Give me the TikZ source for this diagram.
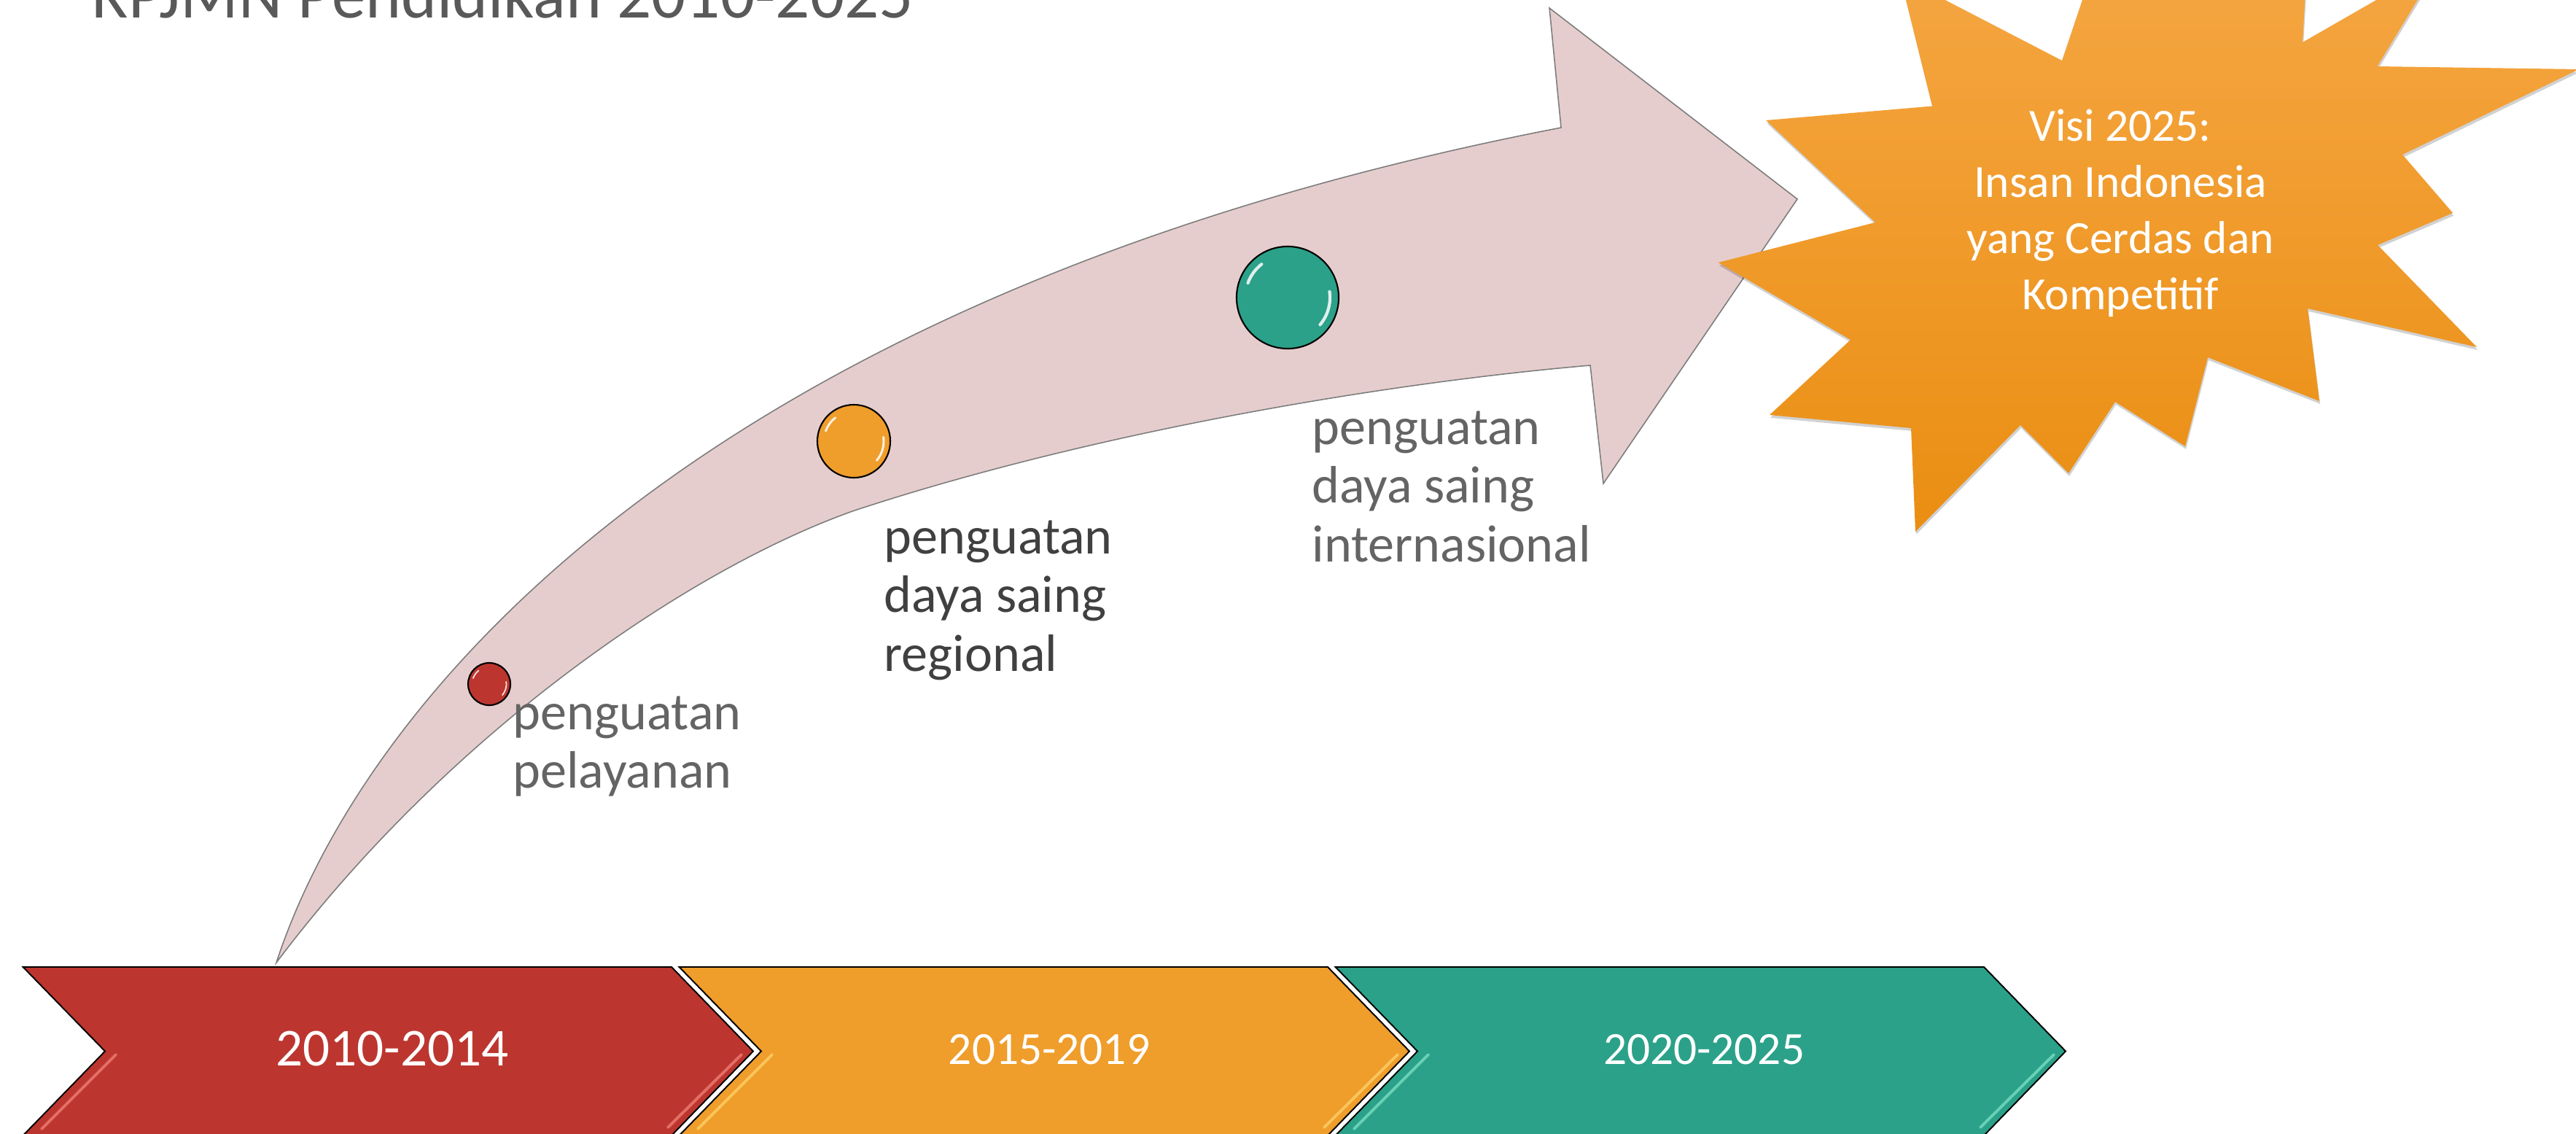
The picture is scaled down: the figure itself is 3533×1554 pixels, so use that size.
\documentclass[tikz,border=0pt]{standalone}
\usepackage{fontspec}
\setmainfont{Carlito}
\usetikzlibrary{shadows}
\definecolor{cred}{RGB}{188,54,47}
\definecolor{corange}{RGB}{239,157,43}
\definecolor{cteal}{RGB}{43,161,137}
\definecolor{hlred}{RGB}{245,135,125}
\definecolor{hlorange}{RGB}{255,215,110}
\definecolor{hlteal}{RGB}{130,230,200}
\definecolor{arrowfill}{RGB}{230,205,205}
\definecolor{arrowline}{RGB}{125,125,125}
\definecolor{startop}{RGB}{245,166,66}
\definecolor{starmid}{RGB}{247,159,34}
\definecolor{starbot}{RGB}{234,142,18}
\definecolor{txtlight}{RGB}{100,100,100}
\definecolor{txtdark}{RGB}{64,64,64}
\definecolor{titlegray}{RGB}{89,89,89}
\newcommand{\mystack}[2][l]{\begin{tabular}[t]{@{}#1@{}}#2\end{tabular}}
\newcommand{\mychev}[3]{%
  \path[chevline, fill=#2] ({31.6+#1},1326) -- ({921+#1},1326) -- ({1033+#1},1441.5) -- ({921+#1},1557) -- ({31.6+#1},1557) -- ({144+#1},1441.5) -- cycle;
  \draw[hilite, draw=#3] ({159+#1},1446) -- ({57+#1},1548);
  \draw[hilite, draw=#3] ({1017+#1},1446) -- ({916+#1},1546);
}
\begin{document}
\begin{tikzpicture}[x=0.01cm, y=-0.01cm,
  chevline/.style={draw=black, line width=0.55pt, line join=miter},
  hilite/.style={line width=1.1pt, line cap=round, opacity=0.7},
  ballnode/.style={circle, draw=black, line width=0.6pt, inner sep=0pt},
  shinearc/.style={white, line width=#1, line cap=round, opacity=0.85},
  lbl/.style={anchor=base west, inner sep=0pt, font=\fontsize{20.5}{23}\selectfont},
  yearlbl/.style={text=white, inner sep=0pt}
]
\clip (0,0) rectangle (3533,1554);
\fill[white] (0,0) rectangle (3533,1554);

% title
\node[anchor=base west, inner sep=0pt, text=titlegray, font=\fontsize{26.5}{30}\selectfont] (title) at (125,24) {RPJMN Pendidikan 2010-2025};

% curved arrow
\path[draw=arrowline, line width=0.45pt, fill=arrowfill]
  (379,1320) coordinate (tail)
  .. controls (500,950) and (975,400) .. (2141,175) coordinate (shafttop)
  -- (2125,11) -- (2465,273) coordinate (tip) -- (2199,663) -- (2181,501) coordinate (shaftbot)
  .. controls (1900,525) and (1500,592) .. (1172,700)
  .. controls (950,778) and (620,1000) .. (379,1320) -- cycle;

% milestone balls
\node[ballnode, fill=cred, minimum size=0.58cm] (b1) at (671,938) {};
\node[ballnode, fill=corange, minimum size=1.0cm] (b2) at (1171,605) {};
\node[ballnode, fill=cteal, minimum size=1.4cm] (b3) at (1766,408) {};
\draw[shinearc=0.5pt] ([shift={(160:0.235cm)}]b1.center) arc[start angle=160, end angle=128, radius=0.235cm];
\draw[shinearc=0.5pt] ([shift={(8:0.235cm)}]b1.center) arc[start angle=8, end angle=-40, radius=0.235cm];
\draw[shinearc=0.85pt] ([shift={(160:0.41cm)}]b2.center) arc[start angle=160, end angle=128, radius=0.41cm];
\draw[shinearc=0.85pt] ([shift={(8:0.41cm)}]b2.center) arc[start angle=8, end angle=-40, radius=0.41cm];
\draw[shinearc=1.2pt] ([shift={(160:0.58cm)}]b3.center) arc[start angle=160, end angle=128, radius=0.58cm];
\draw[shinearc=1.2pt] ([shift={(8:0.58cm)}]b3.center) arc[start angle=8, end angle=-40, radius=0.58cm];

% milestone labels
\node[lbl, text=txtlight] (l1) at (703,1000) {\mystack{penguatan\\pelayanan}};
\node[lbl, text=txtdark] (l2) at (1212,759) {\mystack{penguatan\\daya saing\\regional}};
\node[lbl, text=txtlight] (l3) at (1799,609) {\mystack{penguatan\\daya saing\\internasional}};

% vision star
\path[top color=startop, middle color=starmid, bottom color=starbot,
      drop shadow={shadow xshift=0.3pt, shadow yshift=-1.1pt, opacity=0.18, fill=black}]
  (2422,165) -- (2650,145.5) -- (2606,-32) -- (2828,83) -- (2866,-30) -- (3163,-30)
  -- (3158,58) -- (3346,-50) -- (3260.5,91) -- (3537,95) -- (3295,212) -- (3364,292)
  -- (3261,336) -- (3397,476) -- (3165,423) -- (3181,550) -- (3028,490) -- (2997,612)
  -- (2901,551) -- (2837,649) -- (2771,583) -- (2627,729) -- (2621,587) -- (2427,569)
  -- (2538,466) -- (2356.5,360) -- (2572,305) -- cycle;
\node[anchor=base, inner sep=0pt, text=white, font=\fontsize{18}{21.9}\selectfont] (visi) at (2908,193)
  {\mystack[c]{Visi 2025:\\Insan Indonesia\\yang Cerdas dan\\Kompetitif}};

% period chevrons
\mychev{0}{cred}{hlred}
\mychev{900}{corange}{hlorange}
\mychev{1800}{cteal}{hlteal}
\node[yearlbl, font=\fontsize{20.8}{25}\selectfont] (p1) at (538,1438) {2010-2014};
\node[yearlbl, font=\fontsize{18}{22}\selectfont] (p2) at (1439,1439) {2015-2019};
\node[yearlbl, font=\fontsize{18}{22}\selectfont] (p3) at (2337,1439) {2020-2025};
\end{tikzpicture}
\end{document}
